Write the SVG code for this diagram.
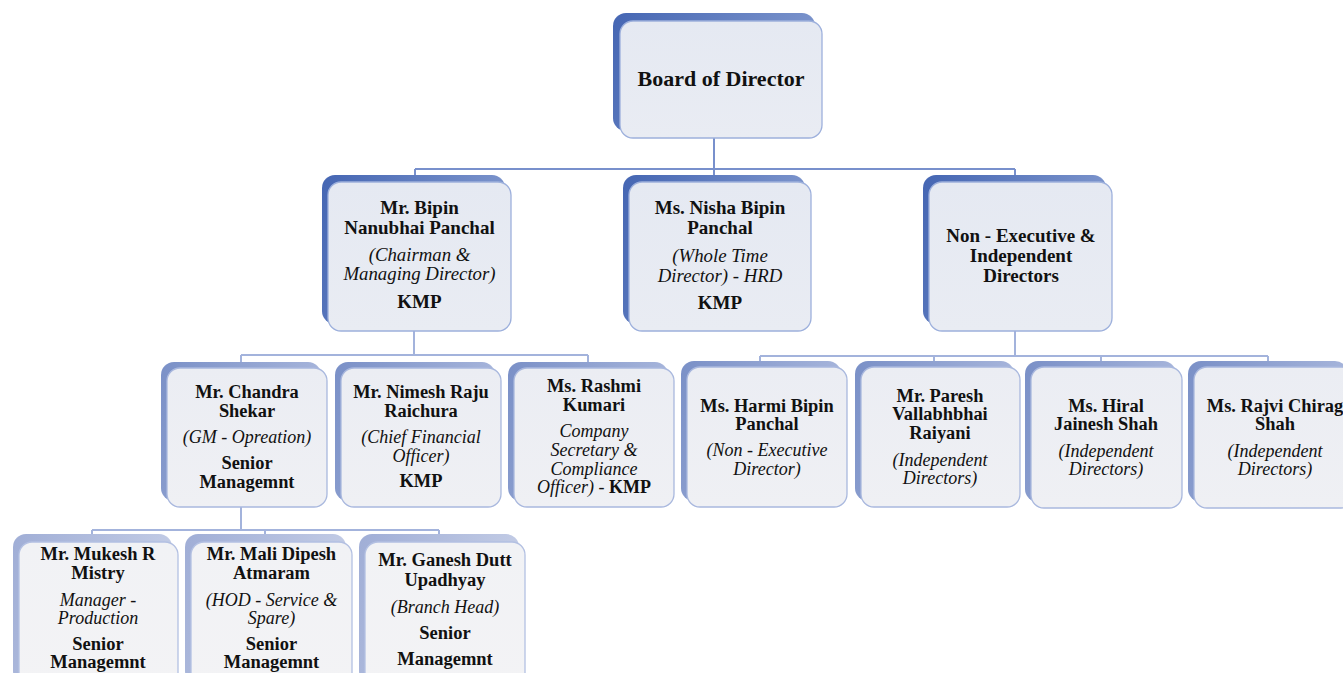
<svg xmlns="http://www.w3.org/2000/svg" width="1343" height="673" viewBox="0 0 1343 673">
<defs>
<linearGradient id="sh1" x1="0" y1="0" x2="1" y2="0.3"><stop offset="0" stop-color="#4566b3"/><stop offset="1" stop-color="#7e96cd"/></linearGradient>
<linearGradient id="sh3" x1="0" y1="0" x2="1" y2="0.3"><stop offset="0" stop-color="#7a90c7"/><stop offset="1" stop-color="#a9b7dc"/></linearGradient>
<linearGradient id="sh4" x1="0" y1="0" x2="1" y2="0.3"><stop offset="0" stop-color="#a0aed6"/><stop offset="1" stop-color="#c4cde6"/></linearGradient>
<linearGradient id="f1" x1="0" y1="0" x2="0" y2="1"><stop offset="0" stop-color="#e5e9f2"/><stop offset="1" stop-color="#e9ecf3"/></linearGradient>
<linearGradient id="f3" x1="0" y1="0" x2="0" y2="1"><stop offset="0" stop-color="#ebedf3"/><stop offset="1" stop-color="#eff0f4"/></linearGradient>
<linearGradient id="f4" x1="0" y1="0" x2="0" y2="1"><stop offset="0" stop-color="#f1f2f5"/><stop offset="1" stop-color="#f3f3f5"/></linearGradient>
</defs>
<style>
.s1{fill:url(#sh1)}
.s3{fill:url(#sh3)}
.s4{fill:url(#sh4)}
.m1{fill:url(#f1);stroke:#9db0dc;stroke-width:1.3}
.m3{fill:url(#f3);stroke:#a9b8de;stroke-width:1.3}
.m4{fill:url(#f4);stroke:#b3c0e2;stroke-width:1.3}
.c1{stroke:#7890cc;stroke-width:2;fill:none}
.c2{stroke:#a3b3dc;stroke-width:2;fill:none}
text{font-family:"Liberation Serif","Times New Roman",serif;fill:#111;text-anchor:middle}
.b{font-weight:bold}
.t0{font-size:22px}
.t2{font-size:19px}
.i2{font-size:18.8px;font-style:italic}
.t3{font-size:18.4px}
.i3{font-size:18px;font-style:italic}
.t4{font-size:18.5px}
.i4{font-size:18px;font-style:italic}
</style>
<rect width="1343" height="673" fill="#ffffff"/>

<g id="connectors">
<path class="c1" d="M714,138V169M415,169H1015M415,169V175M714,169V175M1015,169V175"/>
<path class="c2" d="M414,331V355M241,355H588M241,355V362M588,355V362"/>
<path class="c2" d="M1015,331V356M760,356H1268M760,356V361M934,356V361M1101,356V361M1268,356V361"/>
<path class="c2" d="M241,507V530M92,530H439M92,530V534M265,530V534M439,530V534"/>
</g>

<g id="board">
<rect class="s1" x="613" y="13" width="202" height="118" rx="13"/>
<rect class="m1" x="620" y="21" width="202" height="117" rx="13"/>
<text class="b t0" x="721" y="86">Board of Director</text>
</g>

<g id="bipin">
<rect class="s1" x="322" y="175" width="183" height="149" rx="13"/>
<rect class="m1" x="328" y="182" width="183" height="149" rx="13"/>
<text class="b t2" x="419.5" y="214">Mr. Bipin</text>
<text class="b t2" x="419.5" y="234">Nanubhai Panchal</text>
<text class="i2" x="419.5" y="261">(Chairman &amp;</text>
<text class="i2" x="419.5" y="280">Managing Director)</text>
<text class="b t2" x="419.5" y="308">KMP</text>
</g>

<g id="nisha">
<rect class="s1" x="623" y="175" width="182" height="149" rx="13"/>
<rect class="m1" x="629" y="182" width="182" height="149" rx="13"/>
<text class="b t2" x="720" y="214">Ms. Nisha Bipin</text>
<text class="b t2" x="720" y="234">Panchal</text>
<text class="i2" x="720" y="262">(Whole Time</text>
<text class="i2" x="720" y="282">Director) - HRD</text>
<text class="b t2" x="720" y="309">KMP</text>
</g>

<g id="nonexec">
<rect class="s1" x="923" y="175" width="183" height="149" rx="13"/>
<rect class="m1" x="929" y="182" width="183" height="149" rx="13"/>
<text class="b t2" x="1021" y="242">Non - Executive &amp;</text>
<text class="b t2" x="1021" y="262">Independent</text>
<text class="b t2" x="1021" y="282">Directors</text>
</g>

<g id="chandra">
<rect class="s3" x="161" y="362" width="160" height="139" rx="13"/>
<rect class="m3" x="167" y="368" width="160" height="139" rx="13"/>
<text class="b t3" x="247" y="398">Mr.  Chandra</text>
<text class="b t3" x="247" y="417">Shekar</text>
<text class="i3" x="247" y="443">(GM - Opreation)</text>
<text class="b t3" x="247" y="469">Senior</text>
<text class="b t3" x="247" y="488">Managemnt</text>
</g>

<g id="nimesh">
<rect class="s3" x="335" y="362" width="160" height="139" rx="13"/>
<rect class="m3" x="341" y="368" width="160" height="139" rx="13"/>
<text class="b t3" x="421" y="398">Mr. Nimesh Raju</text>
<text class="b t3" x="421" y="417">Raichura</text>
<text class="i3" x="421" y="443">(Chief Financial</text>
<text class="i3" x="421" y="462">Officer)</text>
<text class="b t3" x="421" y="487">KMP</text>
</g>

<g id="rashmi">
<rect class="s3" x="508" y="362" width="160" height="139" rx="13"/>
<rect class="m3" x="514" y="368" width="160" height="139" rx="13"/>
<text class="b t3" x="594" y="392">Ms. Rashmi</text>
<text class="b t3" x="594" y="411">Kumari</text>
<text class="i3" x="594" y="437">Company</text>
<text class="i3" x="594" y="456">Secretary &amp;</text>
<text class="i3" x="594" y="475">Compliance</text>
<text class="i3" x="594" y="493">Officer) - <tspan class="b" font-style="normal">KMP</tspan></text>
</g>

<g id="harmi">
<rect class="s3" x="681" y="361" width="160" height="140" rx="13"/>
<rect class="m3" x="687" y="367" width="160" height="140" rx="13"/>
<text class="b t3" x="767" y="412">Ms. Harmi Bipin</text>
<text class="b t3" x="767" y="430">Panchal</text>
<text class="i3" x="767" y="456">(Non - Executive</text>
<text class="i3" x="767" y="475">Director)</text>
</g>

<g id="paresh">
<rect class="s3" x="855" y="361" width="159" height="140" rx="13"/>
<rect class="m3" x="861" y="367" width="159" height="140" rx="13"/>
<text class="b t3" x="940" y="402">Mr. Paresh</text>
<text class="b t3" x="940" y="420">Vallabhbhai</text>
<text class="b t3" x="940" y="439">Raiyani</text>
<text class="i3" x="940" y="466">(Independent</text>
<text class="i3" x="940" y="484">Directors)</text>
</g>

<g id="hiral">
<rect class="s3" x="1025" y="361" width="151" height="141" rx="13"/>
<rect class="m3" x="1031" y="367" width="151" height="141" rx="13"/>
<text class="b t3" x="1106" y="412">Ms. Hiral</text>
<text class="b t3" x="1106" y="430">Jainesh Shah</text>
<text class="i3" x="1106" y="457">(Independent</text>
<text class="i3" x="1106" y="475">Directors)</text>
</g>

<g id="rajvi">
<rect class="s3" x="1188" y="361" width="160" height="141" rx="13"/>
<rect class="m3" x="1194" y="367" width="160" height="141" rx="13"/>
<text class="b t3" x="1275" y="412">Ms. Rajvi Chirag</text>
<text class="b t3" x="1275" y="430">Shah</text>
<text class="i3" x="1275" y="457">(Independent</text>
<text class="i3" x="1275" y="475">Directors)</text>
</g>

<g id="mukesh">
<rect class="s4" x="13" y="534" width="159" height="150" rx="13"/>
<rect class="m4" x="19" y="542" width="159" height="150" rx="13"/>
<text class="b t4" x="98" y="560">Mr. Mukesh R</text>
<text class="b t4" x="98" y="579">Mistry</text>
<text class="i4" x="98" y="606">Manager -</text>
<text class="i4" x="98" y="624">Production</text>
<text class="b t4" x="98" y="650">Senior</text>
<text class="b t4" x="98" y="668">Managemnt</text>
</g>

<g id="mali">
<rect class="s4" x="185" y="534" width="161" height="150" rx="13"/>
<rect class="m4" x="191" y="542" width="161" height="150" rx="13"/>
<text class="b t4" x="271.5" y="560">Mr. Mali Dipesh</text>
<text class="b t4" x="271.5" y="579">Atmaram</text>
<text class="i4" x="271.5" y="606">(HOD - Service &amp;</text>
<text class="i4" x="271.5" y="624">Spare)</text>
<text class="b t4" x="271.5" y="650">Senior</text>
<text class="b t4" x="271.5" y="668">Managemnt</text>
</g>

<g id="ganesh">
<rect class="s4" x="359" y="534" width="160" height="150" rx="13"/>
<rect class="m4" x="365" y="542" width="160" height="150" rx="13"/>
<text class="b t4" x="445" y="566">Mr. Ganesh Dutt</text>
<text class="b t4" x="445" y="586">Upadhyay</text>
<text class="i4" x="445" y="613">(Branch Head)</text>
<text class="b t4" x="445" y="639">Senior</text>
<text class="b t4" x="445" y="665">Managemnt</text>
</g>
</svg>
